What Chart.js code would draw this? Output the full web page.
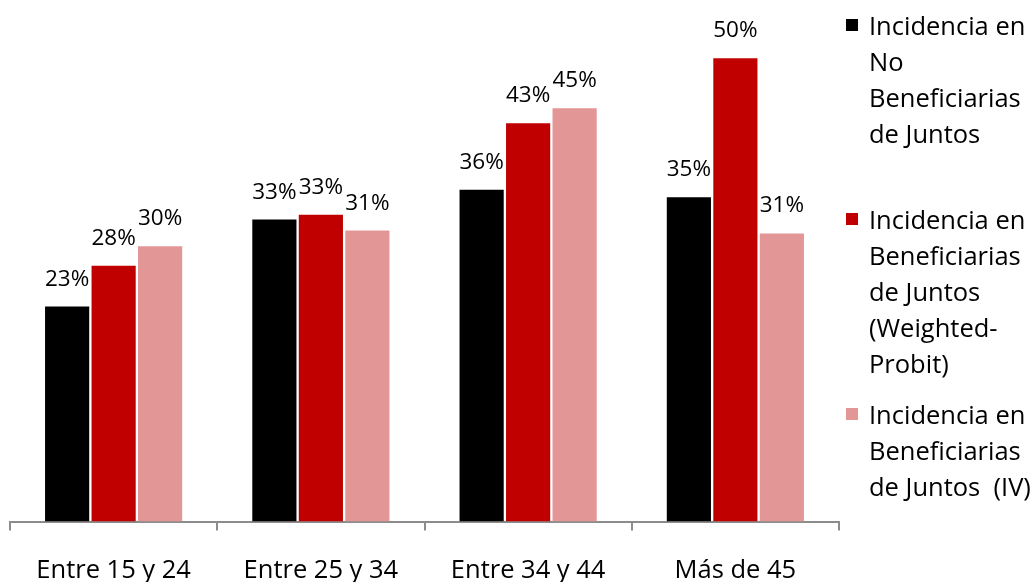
<!DOCTYPE html>
<html>
<head>
<meta charset="utf-8">
<script src="https://cdn.jsdelivr.net/npm/chart.js@4.4.1/dist/chart.umd.min.js"></script>
<style>
  html, body { margin: 0; padding: 0; background: #ffffff; }
  #wrap { position: relative; width: 1032px; height: 582px; overflow: hidden; }
  #legend { position: absolute; left: 0; top: 0; width: 1032px; height: 582px; pointer-events: none;
            font-family: "Open Sans", sans-serif; font-size: 25.5px; color: #000; }
  .item { position: absolute; left: 846px; }
  .sw { position: absolute; left: 0; width: 12px; height: 12px; }
  .txt { position: absolute; left: 23px; line-height: 36px; white-space: nowrap; }
</style>
</head>
<body>
<div id="wrap">
  <canvas id="c" width="1032" height="582"></canvas>
  <div id="legend"></div>
</div>
<script>
const categories = ["Entre 15 y 24", "Entre 25 y 34", "Entre 34 y 44", "Más de 45"];
const seriesNames = [
  ["Incidencia en", "No", "Beneficiarias", "de Juntos"],
  ["Incidencia en", "Beneficiarias", "de Juntos", "(Weighted-", "Probit)"],
  ["Incidencia en", "Beneficiarias", "de Juntos  (IV)"]
];
const noBeneficiarias = [23.2, 32.6, 35.8, 35.0];
const beneficiariasProbit = [27.6, 33.1, 43.0, 50.0];
const beneficiariasIV = [29.7, 31.4, 44.6, 31.1];
const colors = ["#000000", "#C00000", "#E39696"];

const valueLabels = {
  id: "valueLabels",
  afterDatasetsDraw(chart) {
    const ctx = chart.ctx;
    ctx.save();
    ctx.font = "22.5px 'Open Sans', sans-serif";
    ctx.fillStyle = "#000";
    ctx.textAlign = "center";
    ctx.textBaseline = "alphabetic";
    chart.data.datasets.forEach((ds, i) => {
      const meta = chart.getDatasetMeta(i);
      meta.data.forEach((el, j) => {
        ctx.fillText(Math.round(ds.data[j]) + "%", el.x, el.y - 21);
      });
    });
    ctx.restore();
  }
};

const chart = new Chart(document.getElementById("c"), {
  type: "bar",
  data: {
    labels: categories,
    datasets: [
      { label: seriesNames[0].join(" "), data: noBeneficiarias, backgroundColor: colors[0] },
      { label: seriesNames[1].join(" "), data: beneficiariasProbit, backgroundColor: colors[1] },
      { label: seriesNames[2].join(" "), data: beneficiariasIV, backgroundColor: colors[2] }
    ]
  },
  options: {
    responsive: false,
    animation: false,
    layout: { padding: { left: 10, right: 193, top: 12, bottom: 0 } },
    datasets: { bar: { categoryPercentage: 0.673, barPercentage: 0.95 } },
    plugins: { legend: { display: false }, tooltip: { enabled: false } },
    scales: {
      y: { display: false, min: 0, max: 55 },
      x: {
        afterFit(scale) { scale.height = 60.5; },
        border: { display: true, color: "#8c8c8c", width: 2 },
        grid: { offset: true, drawOnChartArea: false, drawTicks: true, tickLength: 9, color: "#8c8c8c", lineWidth: 2 },
        ticks: { color: "#000", padding: 27, maxRotation: 0, font: { family: "'Open Sans', sans-serif", size: 25.5, lineHeight: 1 } }
      }
    }
  },
  plugins: [valueLabels]
});

const legendTops = [7, 201, 396];
const legend = document.getElementById("legend");
seriesNames.forEach((lines, i) => {
  const item = document.createElement("div");
  item.className = "item";
  item.style.top = legendTops[i] + "px";
  const sw = document.createElement("div");
  sw.className = "sw";
  sw.style.background = colors[i];
  sw.style.top = "12px";
  const txt = document.createElement("div");
  txt.className = "txt";
  txt.style.top = "0px";
  txt.innerHTML = lines.map(l => l.replace(/ /g, "&nbsp;")).join("<br>");
  item.appendChild(sw);
  item.appendChild(txt);
  legend.appendChild(item);
});
</script>
</body>
</html>
